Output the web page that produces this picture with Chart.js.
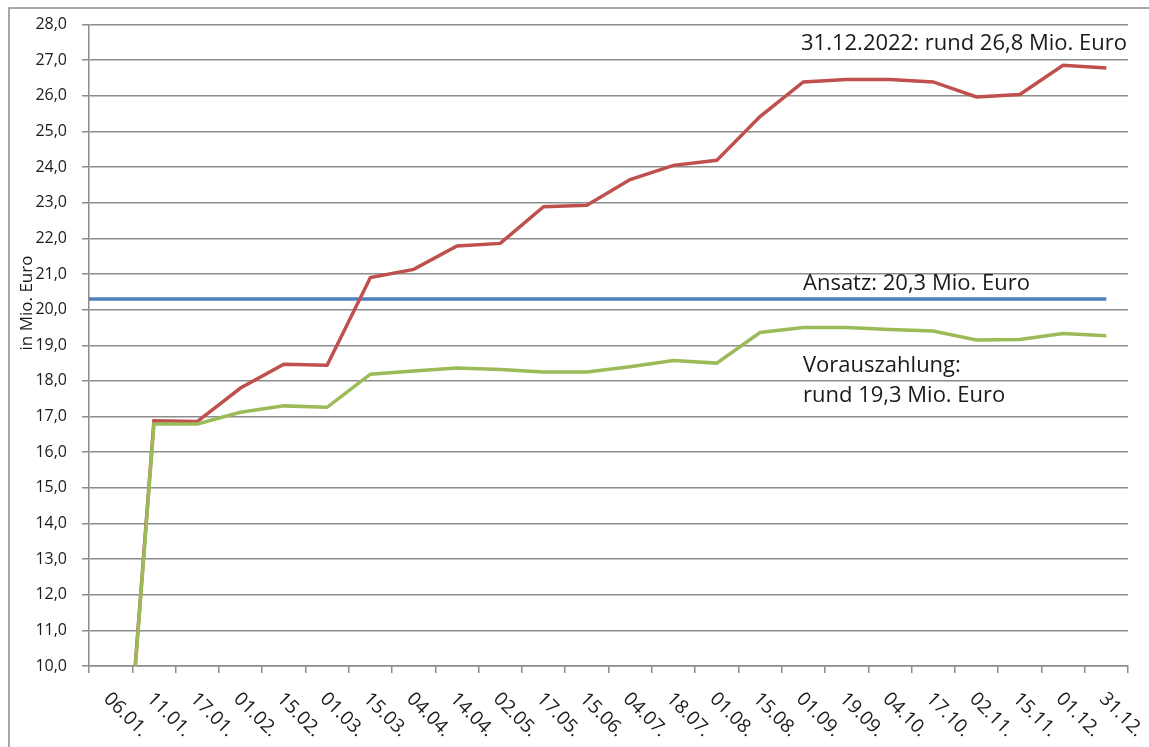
<!DOCTYPE html>
<html lang="de">
<head>
<meta charset="utf-8">
<title>Entwicklung Einnahmen 2022</title>
<script src="https://cdn.jsdelivr.net/npm/chart.js@4.4.1/dist/chart.umd.min.js"></script>
<style>
    html, body { margin: 0; padding: 0; background: #ffffff; }
    #wrap { position: relative; width: 1149px; height: 747px; overflow: hidden; }
</style>
</head>
<body>
<div id="wrap"><canvas id="chart"></canvas></div>
<script>
/* ---------- Data ---------- */
const dateLabels = ["06.01.", "11.01.", "17.01.", "01.02.", "15.02.", "01.03.", "15.03.", "04.04.",
    "14.04.", "02.05.", "17.05.", "15.06.", "04.07.", "18.07.", "01.08.", "15.08.", "01.09.",
    "19.09.", "04.10.", "17.10.", "02.11.", "15.11.", "01.12.", "31.12."];

// Ist-Aufkommen (rot)
const istValues = [1.0, 16.88, 16.86, 17.8, 18.47, 18.44, 20.9, 21.13, 21.79, 21.86, 22.89, 22.93,
    23.65, 24.05, 24.19, 25.42, 26.39, 26.46, 26.46, 26.39, 25.97, 26.04, 26.86, 26.78];

// Vorauszahlung (gruen)
const vorausValues = [0.9, 16.79, 16.79, 17.12, 17.3, 17.26, 18.19, 18.28, 18.36, 18.32, 18.25, 18.25,
    18.4, 18.57, 18.5, 19.36, 19.5, 19.5, 19.44, 19.4, 19.15, 19.16, 19.33, 19.27];

// Ansatz (blau), runs from the y axis to the last date
const ansatzValue = 20.3;
const ansatzRange = [-0.5, 23];

const yMin = 10;
const yMax = 28;

const FONT = "'Open Sans', 'Noto Sans', sans-serif";
const GRID = "#8c8c8c";
const TEXT = "#1a1a1a";

/* ---------- Extra drawing (rotated dates, titles, notes) ---------- */
const decorPlugin = {
    id: "decor",
    beforeDraw(chart) {
        const ctx = chart.ctx;
        ctx.save();
        ctx.fillStyle = "#ffffff";
        ctx.fillRect(0, 0, chart.width, chart.height);
        ctx.strokeStyle = GRID;
        ctx.lineWidth = 1.5;
        ctx.strokeRect(9, 8, chart.width + 20, chart.height + 20);
        ctx.restore();
    },
    afterDraw(chart) {
        const ctx = chart.ctx;
        const xs = chart.scales.x;

        ctx.save();
        ctx.fillStyle = TEXT;

        // x labels, turned 45 degrees clockwise
        ctx.font = "19px " + FONT;
        ctx.textAlign = "left";
        ctx.textBaseline = "middle";
        dateLabels.forEach((lab, i) => {
            ctx.save();
            ctx.translate(xs.getPixelForValue(i) - 4, xs.top + 30);
            ctx.rotate(Math.PI / 4);
            ctx.fillText(lab, 0, 0);
            ctx.restore();
        });

        // y title
        ctx.font = "17px " + FONT;
        ctx.save();
        ctx.translate(27, 303);
        ctx.rotate(-Math.PI / 2);
        ctx.textAlign = "center";
        ctx.fillText("in Mio. Euro", 0, 0);
        ctx.restore();

        // notes
        ctx.font = "22px " + FONT;
        ctx.textBaseline = "alphabetic";
        ctx.textAlign = "right";
        ctx.fillText("31.12.2022: rund 26,8 Mio. Euro", 1127, 50);
        ctx.textAlign = "left";
        ctx.fillText("Ansatz: 20,3 Mio. Euro", 803, 290);
        ctx.fillText("Vorauszahlung:", 803, 372);
        ctx.fillText("rund 19,3 Mio. Euro", 803, 402);

        ctx.restore();
    }
};

/* ---------- Chart ---------- */
function initChart() {
    const ctx = document.getElementById("chart").getContext("2d");

    new Chart(ctx, {
        type: "line",
        data: {
            labels: dateLabels,
            datasets: [
                {
                    label: "Ansatz",
                    data: ansatzRange.map(x => ({ x, y: ansatzValue })),
                    xAxisID: "xb",
                    borderColor: "#4f81bd",
                    borderWidth: 3.5,
                    pointRadius: 0,
                    order: 3
                },
                {
                    label: "Vorauszahlung",
                    data: vorausValues,
                    borderColor: "#9bbb59",
                    borderWidth: 3.5,
                    pointRadius: 0,
                    tension: 0,
                    order: 1
                },
                {
                    label: "Ist",
                    data: istValues,
                    borderColor: "#c0504d",
                    borderWidth: 3.5,
                    pointRadius: 0,
                    tension: 0,
                    order: 2
                }
            ]
        },
        options: {
            responsive: true,
            maintainAspectRatio: false,
            animation: false,
            layout: { padding: { top: 23, right: 21, bottom: 0, left: 0 } },
            plugins: {
                legend: { display: false },
                tooltip: { enabled: false }
            },
            scales: {
                x: {
                    type: "category",
                    offset: true,
                    grid: {
                        offset: true,
                        drawOnChartArea: false,
                        drawTicks: true,
                        tickLength: 7,
                        color: GRID,
                        lineWidth: 1.5
                    },
                    border: { color: GRID, width: 1.5 },
                    ticks: { display: false, autoSkip: false },
                    afterFit(scale) { scale.height = 81; }
                },
                xb: {
                    type: "linear",
                    display: false,
                    min: -0.5,
                    max: dateLabels.length - 0.5
                },
                y: {
                    min: yMin,
                    max: yMax,
                    grid: {
                        color: GRID,
                        lineWidth: 1.5,
                        tickLength: 7
                    },
                    border: { color: GRID, width: 1.5 },
                    ticks: {
                        stepSize: 1,
                        padding: 15,
                        color: TEXT,
                        font: { family: FONT, size: 16 },
                        callback: v => v.toFixed(1).replace(".", ",")
                    },
                    afterFit(scale) { scale.width = 89; }
                }
            }
        },
        plugins: [decorPlugin]
    });
}

document.addEventListener("DOMContentLoaded", initChart);
</script>
</body>
</html>
